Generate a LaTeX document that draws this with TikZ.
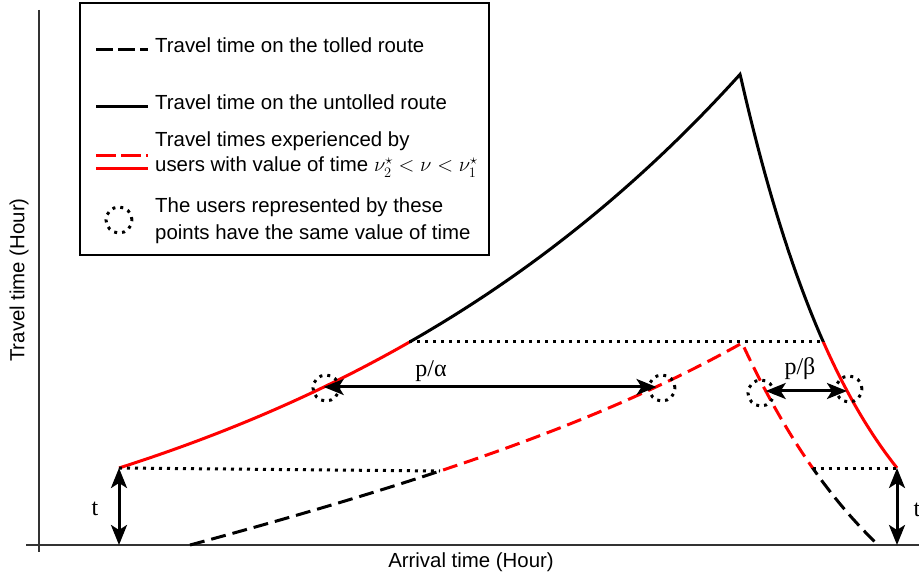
\documentclass[tikz,border=0pt]{standalone}
\usepackage{fontspec}
\setmainfont{Liberation Sans}
\newfontfamily\timesfont{Liberation Serif}
\usetikzlibrary{arrows.meta}

\begin{document}
\begin{tikzpicture}[x=1pt,y=-1pt,
  axis/.style={line width=1.5pt, black!80},
  curve/.style={line width=3pt, line join=miter},
  tollcurve/.style={curve, dash pattern=on 15pt off 7pt},
  dotline/.style={line width=3pt, dash pattern=on 3pt off 5pt},
  dimarrow/.style={line width=3pt,
    {Stealth[length=20pt,width=16pt,inset=5pt]}-{Stealth[length=20pt,width=16pt,inset=5pt]}},
  marker/.style={circle, draw, line width=3pt, dash pattern=on 3pt off 5pt,
    minimum size=26pt, inner sep=0pt},
  lbl/.style={font=\fontsize{20.4}{24}\selectfont, inner sep=0pt, anchor=base west},
  symb/.style={font=\timesfont\fontsize{24}{28}\selectfont, inner sep=0pt},
]
\useasboundingbox (0,0) rectangle (919,577);

% axes
\draw[axis] (39,10) -- (39,552);
\draw[axis] (26,545) -- (919,545);
\node[lbl, anchor=center] (xlabel) at (471,562) {Arrival time (Hour)};
\node[lbl, anchor=center, rotate=90] (ylabel) at (19,280) {Travel time (Hour)};

% travel-time profiles (y grows downwards, time axis at y = 545)
%   untolled, rising  : y = 468 - 160 (exp(0.002 (x-119)) - 1)
%   untolled, falling : y = 625 - 551 exp(-0.008 (x-740))
%   tolled, rising    : y = 545 - 0.2344 (x-190) - 8.97 (exp(0.004 (x-190)) - 1)
%   tolled, falling   : y = 705.1 - 362.1 exp(-0.006 (x-742))
\coordinate (u1) at (119,468);
\coordinate (u4) at (409.4,342);
\coordinate (u7) at (740,74);
\coordinate (u10) at (823.3,342);
\coordinate (u13) at (897,468);
\coordinate (ua) at (323.7,387);
\coordinate (ub) at (847,391);

\coordinate (t1) at (190,545);
\coordinate (t3) at (440,471);
\coordinate (t6) at (742,343);
\coordinate (t9) at (812.6,468);
\coordinate (t11) at (878,545);
\coordinate (ta) at (656.5,387);
\coordinate (tb) at (765.7,391);

\coordinate (f1) at (119,545);
\coordinate (f2) at (897,545);

% untolled route: black part
\begin{scope}
  \clip (409.4,0) -- (919,0) -- (919,342) -- (760,342) -- (760,577) -- (409.4,577) -- cycle;
  \draw[curve] plot[domain=119:740, samples=80, smooth] (\x, {468-160*(exp(0.002*(\x-119))-1)})
    -- plot[domain=741:897, samples=40, smooth] (\x, {625-551*exp(-0.008*(\x-740))});
\end{scope}
% untolled route: red part
\begin{scope}
  \clip (0,0) rectangle (409.4,577) (760,342) rectangle (919,577);
  \draw[curve, red] plot[domain=119:740, samples=80, smooth] (\x, {468-160*(exp(0.002*(\x-119))-1)})
    -- plot[domain=741:897, samples=40, smooth] (\x, {625-551*exp(-0.008*(\x-740))});
\end{scope}

% tolled route: black part
\begin{scope}
  \clip (0,0) rectangle (440,577) (780,468) rectangle (919,577);
  \draw[tollcurve] plot[domain=190:742, samples=80, smooth] (\x, {545-0.2344*(\x-190)-8.97*(exp(0.004*(\x-190))-1)})
    -- plot[domain=743:878, samples=40, smooth] (\x, {705.1-362.1*exp(-0.006*(\x-742))});
\end{scope}
% tolled route: red part
\begin{scope}
  \clip (440,0) -- (919,0) -- (919,468) -- (780,468) -- (780,577) -- (440,577) -- cycle;
  \draw[tollcurve, red] plot[domain=190:742, samples=80, smooth] (\x, {545-0.2344*(\x-190)-8.97*(exp(0.004*(\x-190))-1)})
    -- plot[domain=743:878, samples=40, smooth] (\x, {705.1-362.1*exp(-0.006*(\x-742))});
\end{scope}

% equal travel-time levels
\draw[dotline] (u1) -- (t3);
\draw[dotline] (u4) -- (u10);
\draw[dotline] (t9) -- (u13);

% toll arrows
\draw[dimarrow] (u1) -- (f1);
\draw[dimarrow] (u13) -- (f2);
\node[symb] (tleft) at (95,509) {t};
\node[symb] (tright) at (917,510) {t};

% users with the same value of time
\node[marker] (m1) at (326,388) {};
\node[marker] (m2) at (662,388) {};
\node[marker] (m3) at (761,393) {};
\node[marker] (m4) at (849,389) {};
\draw[dimarrow] (ua) -- (ta);
\draw[dimarrow] (tb) -- (ub);
\node[symb] (palpha) at (431,371) {p/α};
\node[symb] (pbeta) at (800,369) {p/β};

% legend
\draw[line width=1.5pt] (80,3) rectangle (489,255);
\draw[curve, dash pattern=on 17pt off 5pt] (96,50) -- (148,50);
\node[lbl] (legA) at (155,53) {Travel time on the tolled route};
\draw[curve] (96,107) -- (148,107);
\node[lbl] (legB) at (155,110) {Travel time on the untolled route};
\draw[curve, red, dash pattern=on 20pt off 5pt] (96,156) -- (148,156);
\draw[curve, red] (96,169) -- (148,169);
\node[lbl] (legC1) at (155,147) {Travel times experienced by};
\node[lbl] (legC2) at (155,172) {users with value of time $\nu_2^\star<\nu<\nu_1^\star$};
\node[marker] (legD0) at (119,220) {};
\node[lbl] (legD1) at (155,213) {The users represented by these};
\node[lbl] (legD2) at (155,240) {points have the same value of time};
\end{tikzpicture}
\end{document}
